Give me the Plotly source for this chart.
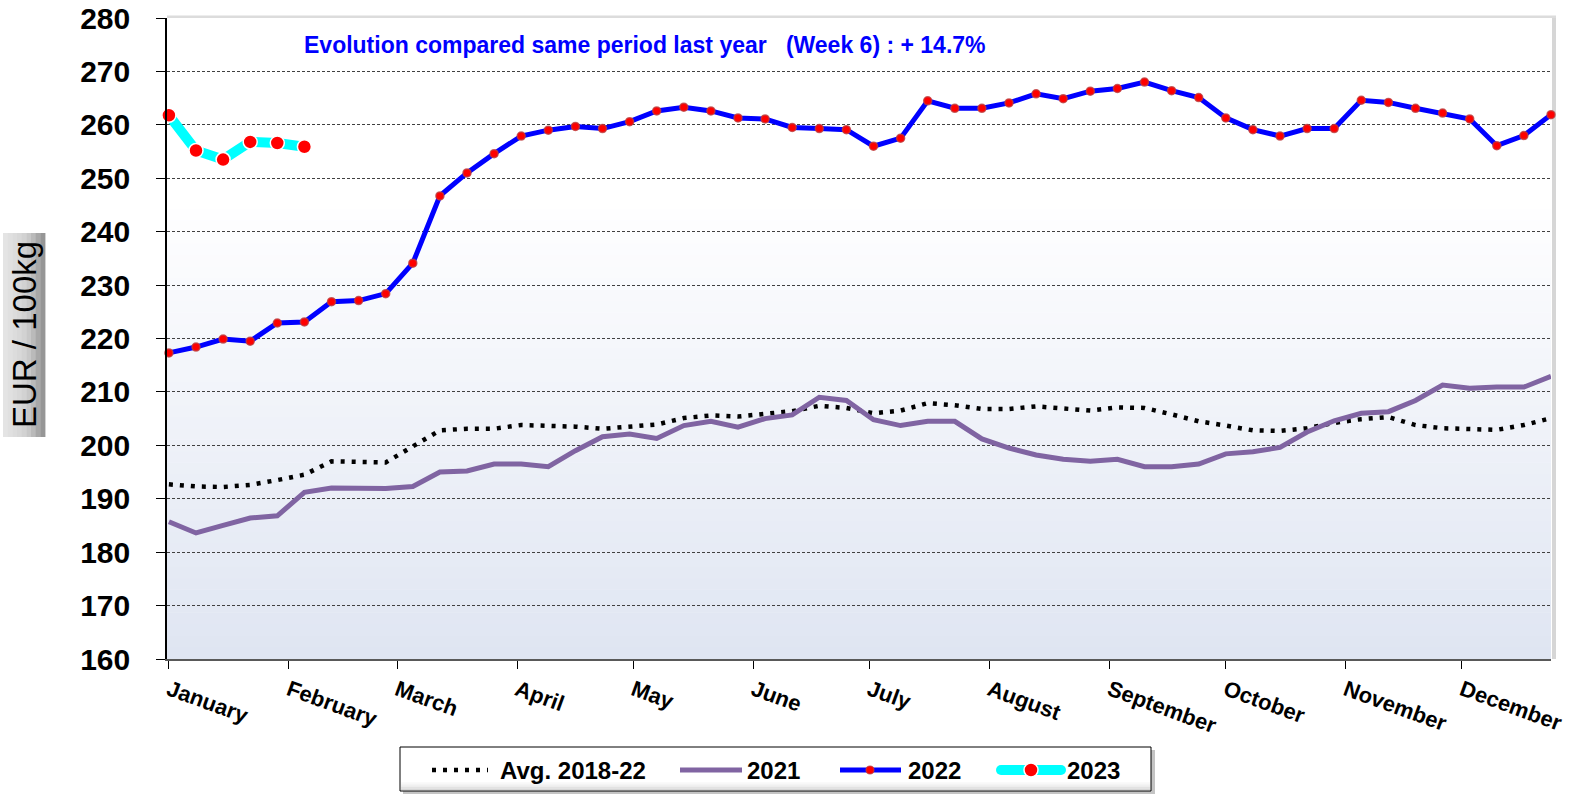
import plotly.graph_objects as go

# ---------------- data ----------------
weeks = list(range(1, 53))

avg_2018_22 = [192.7, 192.3, 192.2, 192.6, 193.5, 194.5, 197.0, 196.8, 196.8, 199.8,
               202.8, 203.1, 203.1, 203.8, 203.7, 203.5, 203.1, 203.4, 203.9, 205.1,
               205.6, 205.4, 206.0, 206.4, 207.4, 207.0, 206.0, 206.5, 207.9, 207.5,
               206.8, 206.8, 207.3, 206.8, 206.5, 207.1, 207.0, 205.8, 204.5, 203.7,
               202.8, 202.7, 203.2, 204.2, 204.9, 205.3, 203.8, 203.2, 203.0, 202.9,
               203.8, 205.1]

y2021 = [185.7, 183.6, 185.0, 186.4, 186.8, 191.2, 192.0, 191.9, 191.9, 192.3,
         195.0, 195.2, 196.5, 196.5, 196.0, 199.0, 201.6, 202.1, 201.3, 203.7,
         204.5, 203.4, 205.0, 205.7, 209.0, 208.4, 204.8, 203.7, 204.5, 204.5,
         201.2, 199.5, 198.2, 197.4, 197.0, 197.4, 196.0, 196.0, 196.5, 198.4,
         198.8, 199.6, 202.5, 204.6, 206.0, 206.3, 208.4, 211.3, 210.7, 210.9,
         210.9, 212.9]

y2022 = [217.3, 218.4, 219.9, 219.5, 222.9, 223.1, 226.9, 227.1, 228.4, 234.1,
         246.7, 251.0, 254.6, 257.9, 259.0, 259.7, 259.3, 260.6, 262.6, 263.3,
         262.6, 261.3, 261.1, 259.5, 259.3, 259.1, 256.0, 257.5, 264.5, 263.1,
         263.1, 264.1, 265.8, 264.9, 266.3, 266.8, 268.0, 266.4, 265.1, 261.3,
         259.1, 257.9, 259.3, 259.3, 264.6, 264.2, 263.1, 262.2, 261.1, 256.1,
         258.0, 261.9]

y2023 = [261.8, 255.2, 253.5, 256.8, 256.6, 255.9]

series_names = ["Avg. 2018-22", "2021", "2022", "2023"]

month_labels = ["January", "February", "March", "April", "May", "June", "July",
                "August", "September", "October", "November", "December"]
month_start_day = [0, 31, 59, 90, 120, 151, 181, 212, 243, 273, 304, 334]

title_text = "Evolution compared same period last year\u00a0\u00a0\u00a0(Week 6) : + 14.7%"
y_title = "EUR / 100kg"

# ---------------- figure ----------------
x_all = [w - 1 for w in weeks]
x_2023 = x_all[:len(y2023)]
tickvals = [d / 7 for d in month_start_day]

W, H = 1576, 794
ML, MR, MT, MB = 167, 25, 18, 135
PW, PH = W - ML - MR, H - MT - MB


def px_x(p):
    return (p - ML) / PW


def px_y(p):
    return 1 - (p - MT) / PH


AVG_STYLE = dict(color="black", width=4.5, dash="4px,7px")
S21_STYLE = dict(color="#8064a2", width=5)
S22_STYLE = dict(color="#0000ff", width=5)
S23_STYLE = dict(color="#00ffff", width=10)

fig = go.Figure()

fig.add_trace(go.Scatter(
    x=x_all, y=avg_2018_22, name=series_names[0], mode="lines",
    line=AVG_STYLE, cliponaxis=False, showlegend=False))

fig.add_trace(go.Scatter(
    x=x_all, y=y2021, name=series_names[1], mode="lines",
    line=S21_STYLE, cliponaxis=False, showlegend=False))

fig.add_trace(go.Scatter(
    x=x_all, y=y2022, name=series_names[2], mode="lines+markers",
    line=S22_STYLE,
    marker=dict(color="#ff0000", size=8, line=dict(color="rgba(190,60,60,0.8)", width=1.5)),
    cliponaxis=False, showlegend=False))

fig.add_trace(go.Scatter(
    x=x_2023, y=y2023, name=series_names[3], mode="lines+markers",
    line=S23_STYLE,
    marker=dict(color="#ff0000", size=14, line=dict(color="white", width=1.5)),
    cliponaxis=False, showlegend=False))

shapes = []
# background gradient of plot area (white at top -> light blue-grey at bottom)
n = 40
top_c = (255, 255, 255)
bot_c = (223, 229, 242)
start = 0.72
for k in range(n):
    y0 = start * k / n
    y1 = start * (k + 1) / n
    t = 1 - (k + 0.5) / n
    c = tuple(int(round(top_c[j] + (bot_c[j] - top_c[j]) * t)) for j in range(3))
    shapes.append(dict(type="rect", xref="x domain", yref="y domain",
                       x0=0, x1=1, y0=y0, y1=y1 + 0.001, layer="below",
                       line=dict(width=0), fillcolor="rgb(%d,%d,%d)" % c))
# plot-area shadow (top and right)
shapes.append(dict(type="rect", xref="x domain", yref="y domain",
                   x0=0, x1=1 + 5 / PW, y0=1, y1=1 + 2.5 / PH,
                   line=dict(width=0), fillcolor="#dcdcdc", layer="above"))
shapes.append(dict(type="rect", xref="x domain", yref="y domain",
                   x0=1 + 1 / PW, x1=1 + 5 / PW, y0=0, y1=1,
                   line=dict(width=0), fillcolor="#d6d6d6", layer="below"))
# y-title box with grey gradient
bx0, bx1 = px_x(3), px_x(45)
by0, by1 = px_y(437), px_y(233)
greys = [228, 224, 220, 216, 210, 200, 186, 168, 150]
for k, g in enumerate(greys):
    xa = bx0 + (bx1 - bx0) * k / len(greys)
    xb = bx0 + (bx1 - bx0) * (k + 1) / len(greys)
    shapes.append(dict(type="rect", xref="paper", yref="paper",
                       x0=xa, x1=xb + 0.0003, y0=by0, y1=by1,
                       line=dict(width=0), fillcolor="rgb(%d,%d,%d)" % (g, g, g)))

# ---- legend (drawn by hand to reproduce the original spacing) ----
LX0, LX1, LY0, LY1 = 400, 1151, 747, 791
LYC = 770
shapes.append(dict(type="rect", xref="paper", yref="paper",
                   x0=px_x(LX0 + 3), x1=px_x(LX1 + 4), y0=px_y(LY1 + 3), y1=px_y(LY0 + 3),
                   line=dict(width=0), fillcolor="#c4c4c4"))
shapes.append(dict(type="rect", xref="paper", yref="paper",
                   x0=px_x(LX0), x1=px_x(LX1), y0=px_y(LY1), y1=px_y(LY0),
                   line=dict(color="black", width=1), fillcolor="white"))
# inner bottom shading of the legend box
for k, g in enumerate([250, 244, 236, 226, 214]):
    shapes.append(dict(type="rect", xref="paper", yref="paper",
                       x0=px_x(LX0 + 1), x1=px_x(LX1 - 1),
                       y0=px_y(LY1 - 1 - (5 - k) * 1.6 + 1.6), y1=px_y(LY1 - 1 - (5 - k) * 1.6),
                       line=dict(width=0), fillcolor="rgb(%d,%d,%d)" % (g, g, g)))


def leg_line(xa, xb, style):
    d = dict(type="line", xref="paper", yref="paper",
             x0=px_x(xa), x1=px_x(xb), y0=px_y(LYC), y1=px_y(LYC),
             line=dict(color=style["color"], width=style["width"]))
    if "dash" in style:
        d["line"]["dash"] = style["dash"]
    return d


def leg_dot(xc, r, fill, outline, ow):
    return dict(type="circle", xref="paper", yref="paper",
                x0=px_x(xc - r), x1=px_x(xc + r), y0=px_y(LYC + r), y1=px_y(LYC - r),
                fillcolor=fill, line=dict(color=outline, width=ow))


shapes.append(leg_line(432, 488, AVG_STYLE))
shapes.append(leg_line(680, 742, S21_STYLE))
shapes.append(leg_line(840, 901, S22_STYLE))
shapes.append(leg_dot(870, 4, "#ff0000", "rgba(190,60,60,0.8)", 1.2))
shapes.append(leg_line(1001, 1061, S23_STYLE))
shapes.append(leg_dot(1001, 5, "#00ffff", "#00ffff", 0))
shapes.append(leg_dot(1061, 5, "#00ffff", "#00ffff", 0))
shapes.append(leg_dot(1031, 7, "#ff0000", "white", 1.5))

legend_text_x = [498, 745, 906, 1065]
annotations = [
    dict(text=title_text, xref="paper", yref="paper", x=px_x(302), y=px_y(45),
         xanchor="left", yanchor="middle", showarrow=False,
         font=dict(family="Liberation Sans, Arial", size=23, color="#0000ff", weight="bold")),
    dict(text=y_title, xref="paper", yref="paper", x=px_x(24), y=px_y(335),
         xanchor="center", yanchor="middle", showarrow=False, textangle=-90,
         font=dict(family="Liberation Sans, Arial", size=33, color="black")),
]
for name, tx in zip(series_names, legend_text_x):
    annotations.append(dict(text=name, xref="paper", yref="paper", x=px_x(tx), y=px_y(LYC),
                            xanchor="left", yanchor="middle", showarrow=False,
                            font=dict(family="Liberation Sans, Arial", size=24,
                                      color="black", weight="bold")))

fig.update_layout(
    width=W, height=H,
    margin=dict(l=ML, r=MR, t=MT, b=MB, autoexpand=False),
    paper_bgcolor="white", plot_bgcolor="rgba(0,0,0,0)",
    shapes=shapes,
    showlegend=False,
    annotations=annotations,
)

fig.update_xaxes(
    range=[-0.07, 51.0], tickmode="array", tickvals=tickvals, ticktext=month_labels,
    tickangle=20, ticks="outside", ticklen=8, tickcolor="black", tickwidth=1,
    showline=True, linecolor="#595959", linewidth=1.5, showgrid=False, zeroline=False,
    tickfont=dict(family="Liberation Sans, Arial", size=22, color="black", weight="bold"),
)
fig.update_yaxes(
    range=[160, 280], dtick=10, tick0=160, ticks="outside", ticklen=9,
    tickcolor="black", tickwidth=1, showline=True, linecolor="black", linewidth=1.5,
    showgrid=True, gridcolor="#404040", gridwidth=1, griddash="3px,2px", zeroline=False,
    tickfont=dict(family="Liberation Sans, Arial", size=30, color="black", weight="bold"),
    ticklabelstandoff=20,
)

fig.write_html("out.html", config={"displayModeBar": False},
               post_script="document.body.style.margin='0';document.body.style.overflow='hidden';")
